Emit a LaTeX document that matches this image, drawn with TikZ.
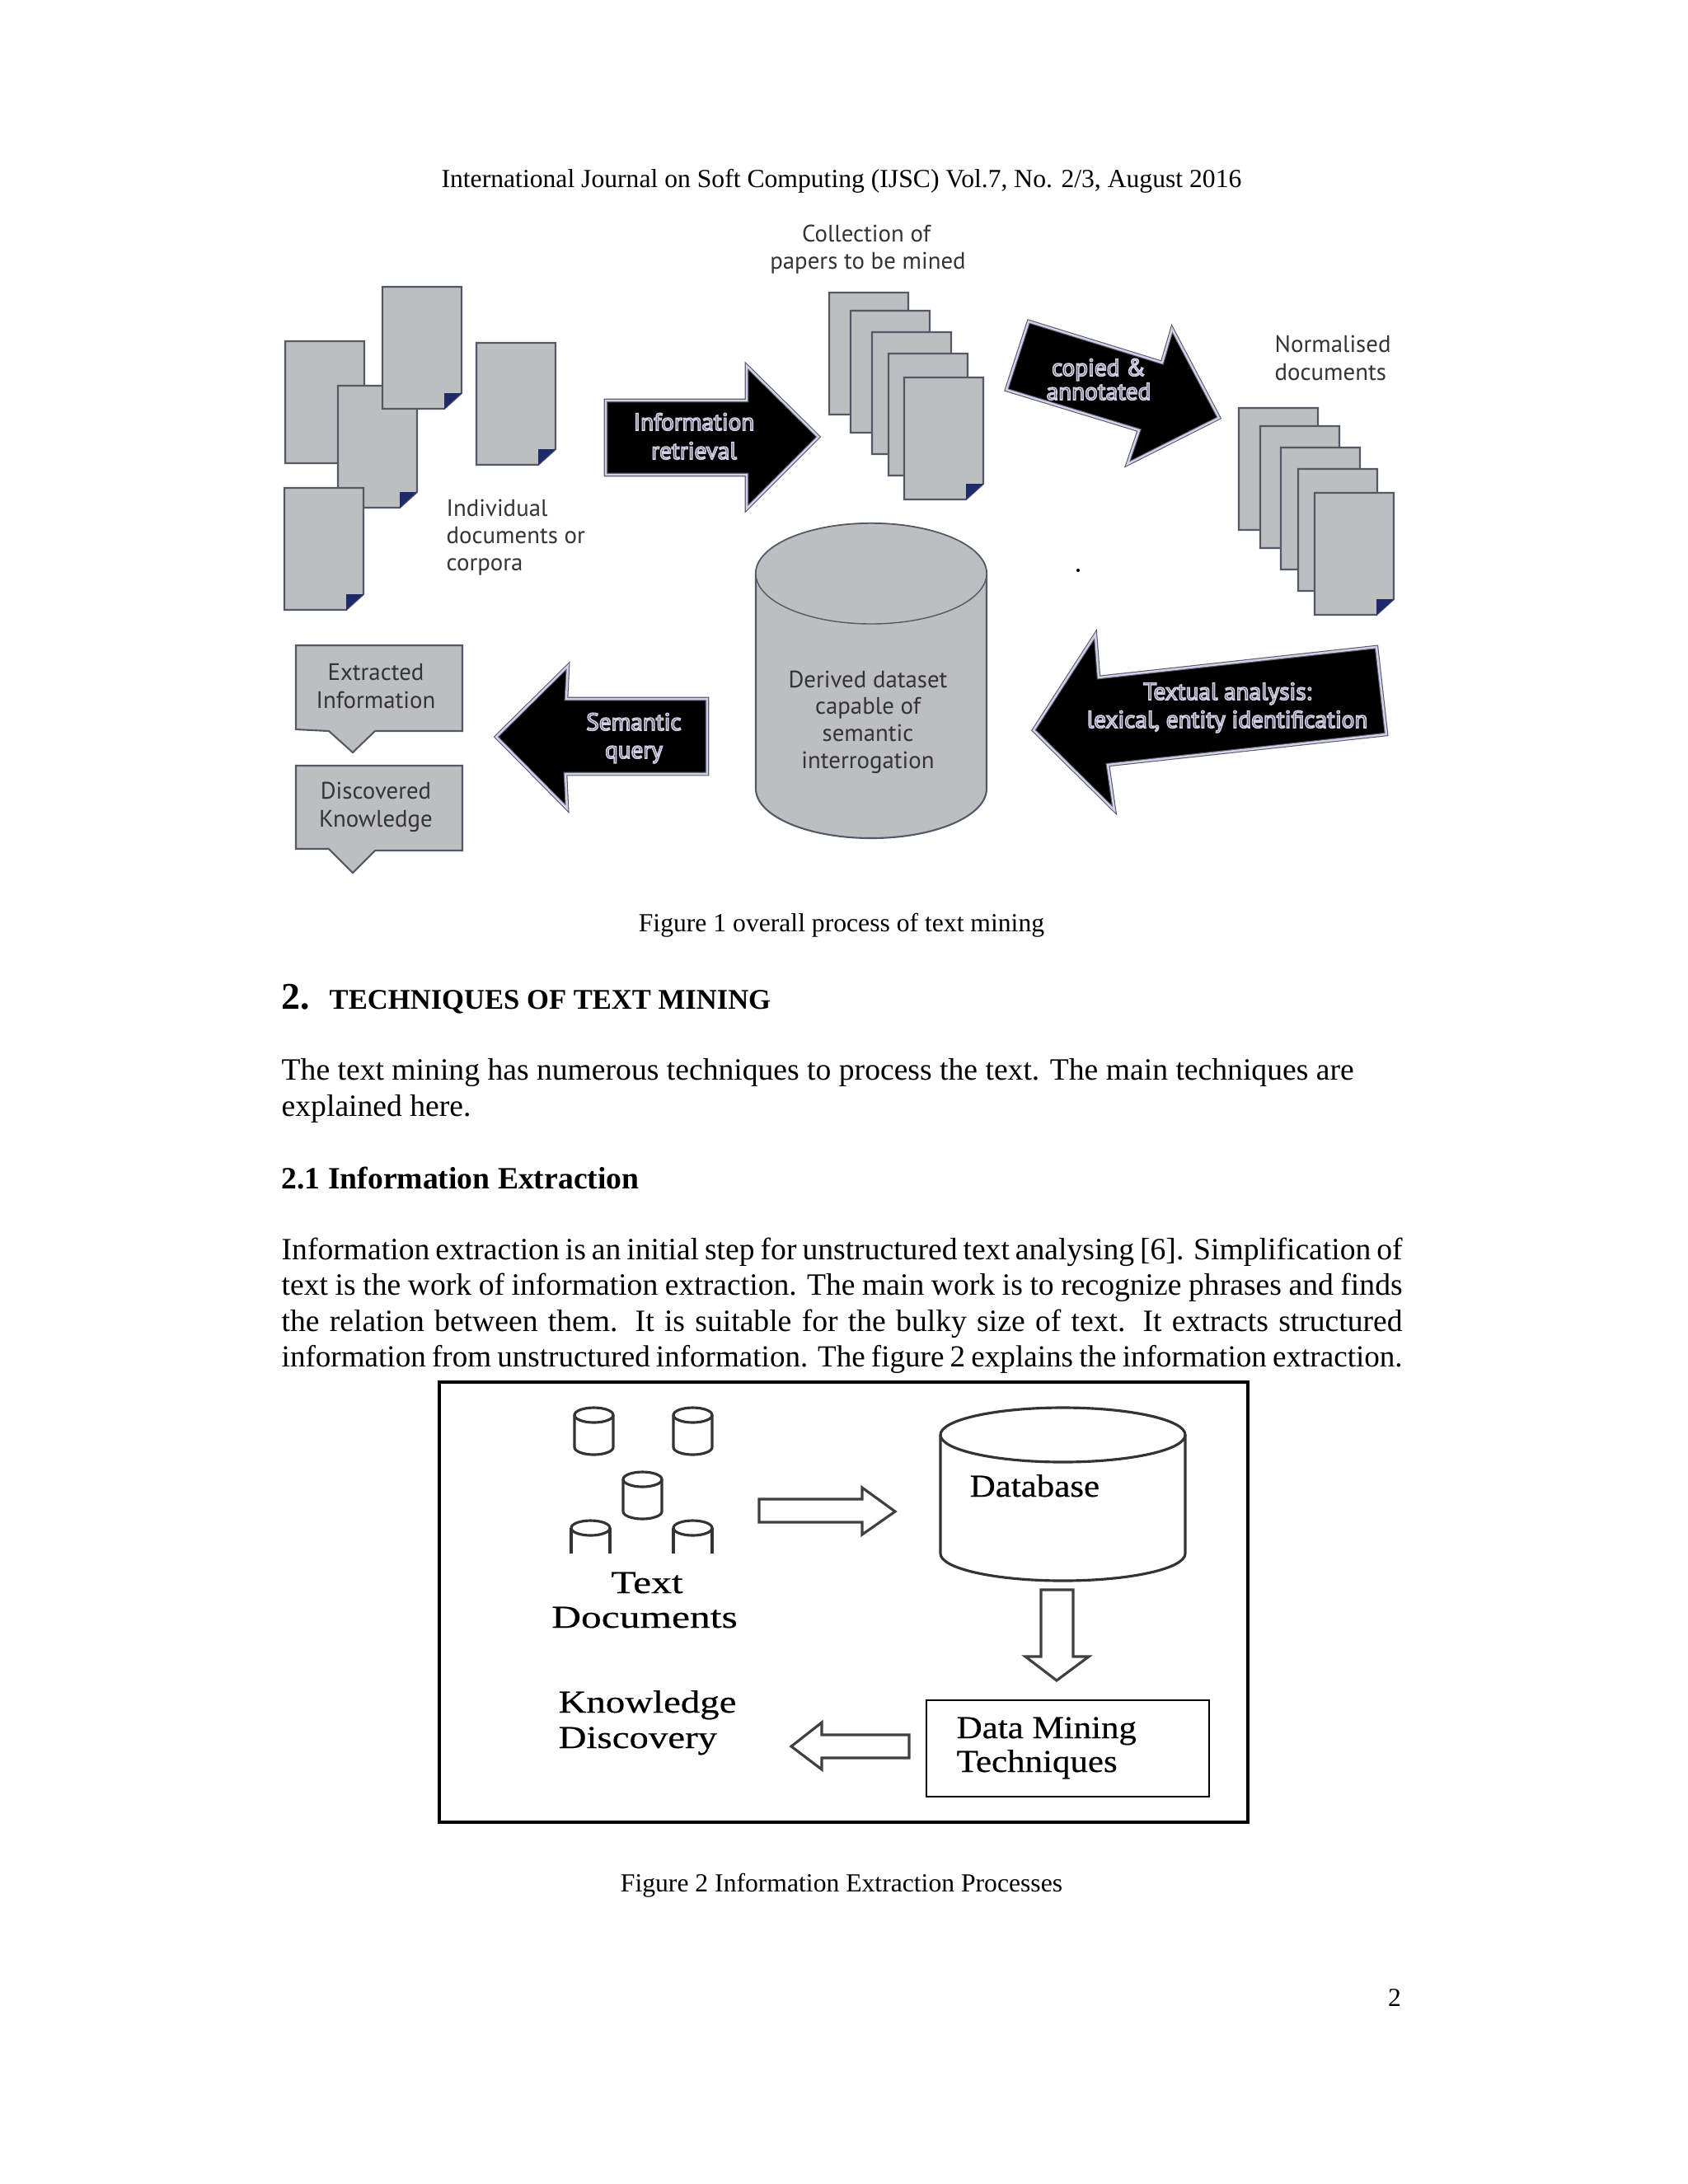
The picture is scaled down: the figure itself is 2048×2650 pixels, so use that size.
\documentclass[tikz,border=0pt]{standalone}
\usepackage{fontspec}
\setmainfont{Liberation Serif}
\newfontfamily\figsans{PT Sans}
\newfontfamily\figserif[FakeStretch=1.28, FakeBold=0.4]{Liberation Serif}
\newfontfamily\figserifmid[FakeStretch=1.21, FakeBold=0.4]{Liberation Serif}
\newfontfamily\figserifnar[FakeStretch=1.11, FakeBold=0.4]{Liberation Serif}
\definecolor{sheetgray}{HTML}{BDBEC0}
\definecolor{sheetedge}{HTML}{565868}
\definecolor{foldnavy}{HTML}{1F2A6B}
\definecolor{rimlilac}{HTML}{D2D0E6}
\definecolor{labelgray}{HTML}{333338}
\tikzset{
  sheet/.style={draw=sheetedge, fill=sheetgray, line width=0.6pt},
  fold/.style={fill=foldnavy},
  blockarrow/.style={fill=black, draw=sheetedge, double=rimlilac, double distance=0.7pt, line width=0.3pt, miter limit=20},
  hollowarrow/.style={draw=black!75, fill=white, line width=0.9pt},
  bodytext/.style={inner sep=0pt, font=\fontsize{10.7}{12.4}\selectfont},
  smalltext/.style={inner sep=0pt, font=\fontsize{9}{11}\selectfont},
  figlabel/.style={inner sep=0pt, text=labelgray, font=\figsans\fontsize{8.2}{9}\selectfont},
  arrowlabel/.style={inner sep=0pt, font=\figsans\fontsize{8.3}{9.4}\selectfont},
  oldlabel/.style={inner sep=0pt, font=\figserif\fontsize{11}{12}\selectfont},
}
% one sheet with a turned corner
\newcommand{\sheetat}[3]{
  \coordinate (#1) at (#2,#3);
  \draw[sheet] (#1) -- ++(96,0) -- ++(0,129) -- ++(-21,19) -- ++(-75,0) -- cycle;
  \fill[fold] (#1) ++(75,148) -- ++(0,-19) -- ++(21,0) -- cycle;
}
% small drum of figure 2, #4 is its height
\newcommand{\drumat}[4]{
  \coordinate (#1) at (#2,#3);
  \draw[line width=0.9pt, black!80] (#1) ++(0,9) -- ++(0,#4-18)
    arc[start angle=180, end angle=0, x radius=23.5, y radius=9] -- ++(0,18-#4);
  \draw[line width=0.9pt, black!80] (#1) ++(23.5,9) ellipse [x radius=23.5, y radius=9];
}
\newcommand{\opendrumat}[4]{
  \coordinate (#1) at (#2,#3);
  \draw[line width=0.9pt, black!80] (#1) ++(0,#4) -- ++(0,9-#4);
  \draw[line width=0.9pt, black!80] (#1) ++(47,#4) -- ++(0,9-#4);
  \draw[line width=0.9pt, black!80] (#1) ++(23.5,9) ellipse [x radius=23.5, y radius=9];
}
% outlined lettering on the black arrows
\newcommand{\rimtext}[1]{\special{pdf:code q 2 Tr 0.45 w 0.82 0.81 0.90 RG 0.2 0.2 0.24 rg}#1\special{pdf:code Q}}
\begin{document}
\begin{tikzpicture}[x=0.01cm, y=-0.01cm]
    \useasboundingbox[fill=white] (0,0) rectangle (2048,2650);

    % Running head
    \node[smalltext, anchor=base] (runhead) at (1021,227) {International Journal on Soft Computing (IJSC) Vol.7, No. 2/3, August 2016};

    % Loose documents
    \sheetat{docA}{346}{414}
    \sheetat{docB}{410}{468}
    \sheetat{docC}{464}{348}
    \sheetat{docD}{578}{416}
    \sheetat{docE}{345}{592}
    \node[figlabel, anchor=base west, align=left] (loose1) at (541,626) {Individual};
    \node[figlabel, anchor=base west] (loose2) at (541,659) {documents or};
    \node[figlabel, anchor=base west] (loose3) at (541,692) {corpora};

    % Collected papers
    \sheetat{papA}{1006}{355}
    \sheetat{papB}{1032}{377}
    \sheetat{papC}{1058}{403}
    \sheetat{papD}{1078}{429}
    \sheetat{papE}{1097}{458}
    \node[figlabel, anchor=base] (coll1) at (1051,293) {Collection of};
    \node[figlabel, anchor=base] (coll2) at (1053,326) {papers to be mined};

    % Normalised papers
    \sheetat{normA}{1503}{495}
    \sheetat{normB}{1529}{517}
    \sheetat{normC}{1554}{543}
    \sheetat{normD}{1575}{569}
    \sheetat{normE}{1595}{598}
    \node[figlabel, anchor=base west] (norm1) at (1546,427) {Normalised};
    \node[figlabel, anchor=base west] (norm2) at (1546,461) {documents};
    \fill (1308,692) circle (2);

    % Black arrows
    \draw[blockarrow] (735,486) -- (906,486) -- (906,444) -- (993,530) -- (906,617) -- (906,576) -- (735,576) -- cycle;
    \node[arrowlabel, anchor=base] (retr1) at (842,522) {\rimtext{Information}};
    \node[arrowlabel, anchor=base] (retr2) at (842,557) {\rimtext{retrieval}};

    \draw[blockarrow] (1248,390) -- (1410,440) -- (1422,399) -- (1479,507) -- (1368,563) -- (1382,522) -- (1221,473) -- cycle;
    \node[arrowlabel, anchor=base] (copy1) at (1333,456) {\rimtext{copied \&}};
    \node[arrowlabel, anchor=base] (copy2) at (1333,485) {\rimtext{annotated}};

    \draw[blockarrow] (1254,886) -- (1329,770) -- (1333,822) -- (1670,785) -- (1682,891) -- (1344,928) -- (1352,983) -- cycle;
    \node[arrowlabel, anchor=base] (text1) at (1489,849) {\rimtext{Textual analysis:}};
    \node[arrowlabel, anchor=base] (text2) at (1489,883) {\rimtext{lexical, entity identification}};

    \draw[blockarrow] (602,894) -- (689,808) -- (687,848) -- (858,848) -- (858,939) -- (686,939) -- (688,981) -- cycle;
    \node[arrowlabel, anchor=base] (sema1) at (769,886) {\rimtext{Semantic}};
    \node[arrowlabel, anchor=base] (sema2) at (769,920) {\rimtext{query}};

    % Derived dataset drum
    \draw[sheet] (917,696) -- (917,957) arc[start angle=180, end angle=0, x radius=140, y radius=60] -- (1197,696) arc[start angle=0, end angle=-180, x radius=140, y radius=61];
    \draw[sheet, line width=0.4pt] (1057,696) ellipse [x radius=140, y radius=61];
    \node[figlabel, anchor=base] (drum1) at (1053,834) {Derived dataset};
    \node[figlabel, anchor=base] (drum2) at (1053,866) {capable of};
    \node[figlabel, anchor=base] (drum3) at (1053,899) {semantic};
    \node[figlabel, anchor=base] (drum4) at (1053,932) {interrogation};

    % Result callouts
    \draw[sheet] (359,783) -- (561,783) -- (561,887) -- (455,887) -- (428,913) -- (399,887) -- (359,885) -- cycle;
    \node[figlabel, anchor=base] (extr1) at (456,825) {Extracted};
    \node[figlabel, anchor=base] (extr2) at (456,859) {Information};
    \draw[sheet] (359,929) -- (561,929) -- (561,1032) -- (455,1032) -- (428,1059) -- (399,1030) -- (359,1030) -- cycle;
    \node[figlabel, anchor=base] (disc1) at (456,969) {Discovered};
    \node[figlabel, anchor=base] (disc2) at (456,1003) {Knowledge};

    \node[smalltext, anchor=base] (cap1) at (1021,1130) {Figure 1 overall process of text mining};

    % Section text
    \node[bodytext, anchor=base west] (secnum) at (341,1224) {\fontsize{13}{14}\selectfont\bfseries 2.};
    \node[bodytext, anchor=base west] (sechead) at (399,1224) {\fontsize{9.84}{12}\selectfont\bfseries TECHNIQUES OF TEXT MINING};
    \node[bodytext, anchor=base west] (para1) at (341,1310) {The text mining has numerous techniques to process the text. The main techniques are};
    \node[bodytext, anchor=base west] (para2) at (341,1354) {explained here.};
    \node[bodytext, anchor=base west] (subhead) at (341,1442) {\bfseries 2.1 Information Extraction};
    \node[bodytext, anchor=base west] (line1) at (341,1528) {\makebox[386.7pt][s]{Information extraction is an initial step for unstructured text analysing [6]. Simplification of}};
    \node[bodytext, anchor=base west] (line2) at (341,1571) {\makebox[386.7pt][s]{text is the work of information extraction. The main work is to recognize phrases and finds}};
    \node[bodytext, anchor=base west] (line3) at (341,1615) {\makebox[386.7pt][s]{the relation between them. It is suitable for the bulky size of text. It extracts structured}};
    \node[bodytext, anchor=base west] (line4) at (341,1658) {\fontsize{10.55}{12.4}\selectfont\makebox[386.7pt][s]{information from unstructured information. The figure 2 explains the information extraction.}};

    % Figure 2 frame
    \draw[line width=0.9pt] (533,1677) rectangle (1514,2211);

    % Small drums
    \drumat{drumA}{697}{1708}{57}
    \drumat{drumB}{817}{1708}{57}
    \drumat{drumC}{756}{1786}{57}
    \opendrumat{drumD}{693}{1845}{40}
    \opendrumat{drumE}{817}{1845}{40}
    \node[oldlabel, anchor=base] (txt1) at (785,1933) {Text};
    \node[oldlabel, anchor=base] (txt2) at (782,1975) {Documents};

    % Database drum
    \draw[line width=0.9pt, black!80] (1141,1741) -- (1141,1885) arc[start angle=180, end angle=0, x radius=148.5, y radius=33] -- (1438,1741);
    \draw[line width=0.9pt, black!80] (1289.5,1741) ellipse [x radius=148.5, y radius=33];
    \node[oldlabel, anchor=base west] (dbase) at (1176,1816) {\figserifnar Database};

    % Hollow arrows
    \draw[hollowarrow] (921,1819) -- (1046,1819) -- (1046,1805) -- (1086,1834) -- (1046,1862) -- (1046,1847) -- (921,1847) -- cycle;
    \draw[hollowarrow] (1263,1929) -- (1302,1929) -- (1302,2010) -- (1321,2010) -- (1282,2039) -- (1244,2010) -- (1263,2010) -- cycle;
    \draw[hollowarrow] (1103,2105) -- (997,2105) -- (997,2090) -- (960,2119) -- (997,2147) -- (997,2133) -- (1103,2133) -- cycle;

    % Mining box
    \draw[line width=0.7pt] (1124,2063) rectangle (1467,2180);
    \node[oldlabel, anchor=base west] (mine1) at (1160,2109) {\figserifnar Data Mining};
    \node[oldlabel, anchor=base west] (mine2) at (1160,2150) {\figserifnar Techniques};
    \node[oldlabel, anchor=base west] (know1) at (677,2078) {\figserifmid Knowledge};
    \node[oldlabel, anchor=base west] (know2) at (677,2121) {\figserifmid Discovery};

    \node[smalltext, anchor=base] (cap2) at (1021,2295) {Figure 2 Information Extraction Processes};
    \node[smalltext, anchor=base] (pageno) at (1692,2434) {2};
\end{tikzpicture}
\end{document}
